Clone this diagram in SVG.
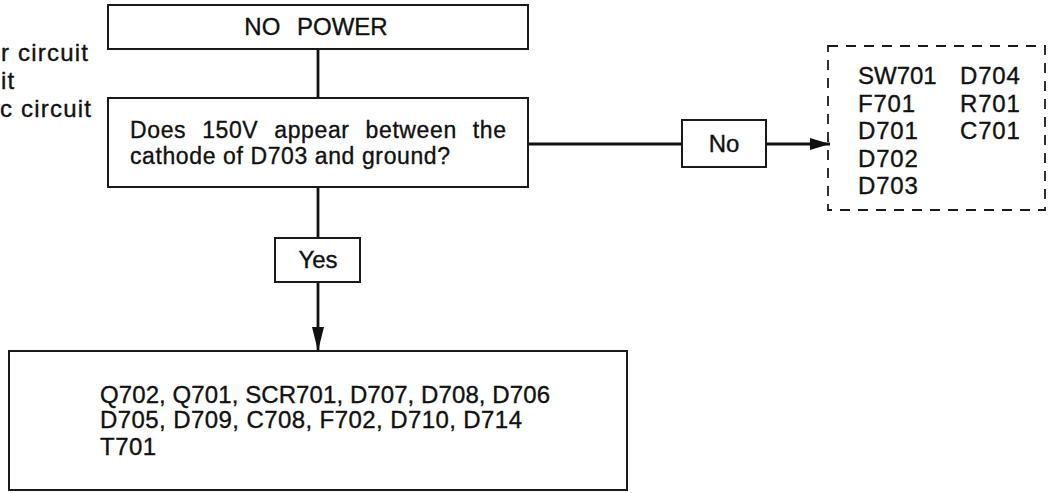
<svg xmlns="http://www.w3.org/2000/svg" width="1048" height="493" viewBox="0 0 1048 493">
<style>
.box{fill:#fff;stroke:#1a1a1a;stroke-width:2}
.dash{fill:none;stroke:#1a1a1a;stroke-width:1.8;stroke-dasharray:10 8}
.t{font-family:"Liberation Sans",Arial,sans-serif;font-size:24px;fill:#111;stroke:#111;stroke-width:0.35}
.q{font-size:23px}
.c{text-anchor:middle}
.ln{stroke:#111;stroke-width:2.8;fill:none}
</style>
<defs>
<marker id="ahd" markerWidth="24" markerHeight="12" refX="24" refY="6" orient="auto" markerUnits="userSpaceOnUse">
<path d="M0,0 L24,6 L0,12 Z" fill="#111"/>
</marker>
<marker id="ahr" markerWidth="20" markerHeight="12" refX="20" refY="6" orient="auto" markerUnits="userSpaceOnUse">
<path d="M0,0 L20,6 L0,12 Z" fill="#111"/>
</marker>
</defs>
<rect width="1048" height="493" fill="#fff"/>
<g id="margin-text">
<text class="t" x="1" y="61" letter-spacing="1.2">r circuit</text>
<text class="t" x="1" y="89" letter-spacing="1.2">it</text>
<text class="t" x="0" y="117" letter-spacing="1.2">c circuit</text>
</g>
<g id="connectors">
<line class="ln" x1="318" y1="49" x2="318" y2="98"/>
<line class="ln" x1="318" y1="187" x2="318" y2="238"/>
<line class="ln" x1="318" y1="282" x2="318" y2="351" marker-end="url(#ahd)"/>
<line class="ln" x1="528" y1="144" x2="682" y2="144"/>
<line class="ln" x1="766" y1="144" x2="830" y2="144" marker-end="url(#ahr)"/>
</g>
<g id="no-power">
<rect class="box" x="108" y="5" width="420" height="44"/>
<text class="t c" x="316" y="35" word-spacing="10">NO POWER</text>
</g>
<g id="question">
<rect class="box" x="108" y="98" width="420" height="89"/>
<text class="t q" x="130" y="138" textLength="376" lengthAdjust="spacing" word-spacing="9">Does 150V appear between the</text>
<text class="t q" x="130" y="164" textLength="320" lengthAdjust="spacing">cathode of D703 and ground?</text>
</g>
<g id="no-label">
<rect class="box" x="682" y="120" width="84" height="47"/>
<text class="t c" x="724" y="152">No</text>
</g>
<g id="yes-label">
<rect class="box" x="275" y="238" width="85" height="44"/>
<text class="t c" x="318" y="268">Yes</text>
</g>
<g id="no-parts">
<rect class="dash" x="828" y="46" width="217" height="164"/>
<text class="t" x="858" y="84">SW701</text>
<text class="t" x="858" y="112" letter-spacing="0.8">F701</text>
<text class="t" x="858" y="139" letter-spacing="0.8">D701</text>
<text class="t" x="858" y="167" letter-spacing="0.8">D702</text>
<text class="t" x="858" y="194" letter-spacing="0.8">D703</text>
<text class="t" x="960" y="84" letter-spacing="0.8">D704</text>
<text class="t" x="960" y="112" letter-spacing="0.8">R701</text>
<text class="t" x="960" y="139" letter-spacing="0.8">C701</text>
</g>
<g id="yes-parts">
<rect class="box" x="9" y="351" width="618" height="139"/>
<text class="t" x="100" y="403" textLength="450" lengthAdjust="spacing">Q702, Q701, SCR701, D707, D708, D706</text>
<text class="t" x="100" y="428" textLength="422" lengthAdjust="spacing">D705, D709, C708, F702, D710, D714</text>
<text class="t" x="100" y="455" letter-spacing="0.5">T701</text>
</g>
</svg>
